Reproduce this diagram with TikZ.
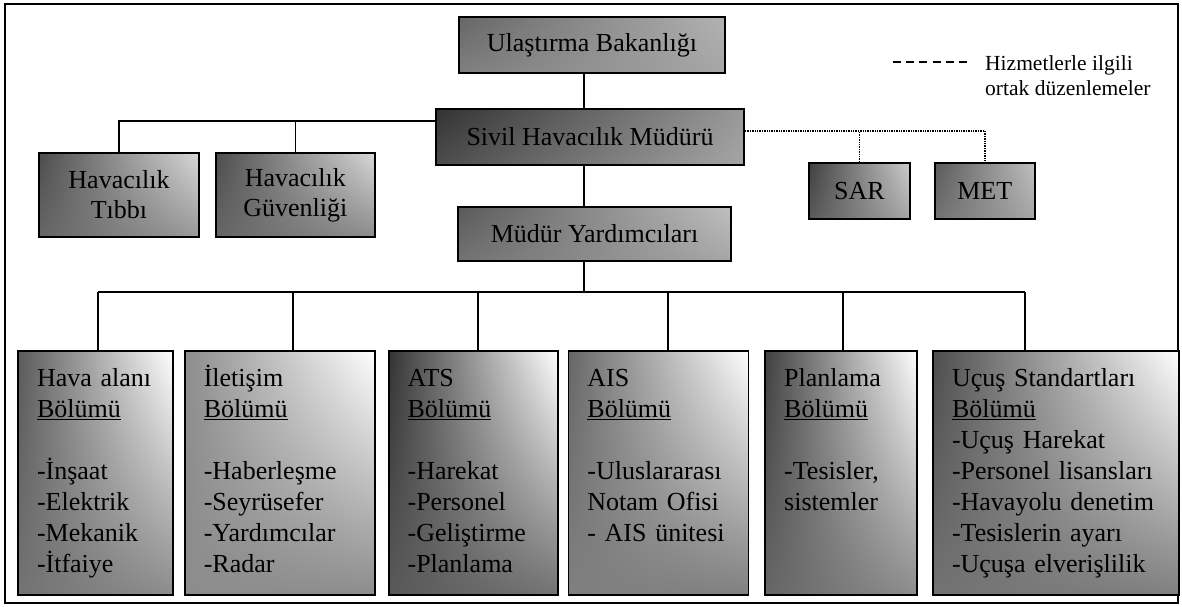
\documentclass[tikz,border=0pt]{standalone}
\usepackage{fontspec}
\setmainfont{Liberation Serif}
\usetikzlibrary{shadings,positioning}
\newcommand{\unitfont}{\fontsize{26}{31}\selectfont}
\newcommand{\notefont}{\fontsize{21.5}{25}\selectfont}

\begin{document}
\begin{tikzpicture}[x=1pt,y=-1pt,
                    unit/.style={draw,line width=1.8pt,inner sep=0pt,font=\unitfont},
                    head/.style={unit,minimum height=56pt},
                    dept/.style={unit,minimum height=244pt,inner xsep=19pt,align=left,upper right=white},
                    link/.style={line width=1.5pt},
                    service/.style={line width=1.4pt,densely dotted}]

        \useasboundingbox (0,0) rectangle (1182,607);
        \draw[line width=2.8pt] (5,4) rectangle (1178,603);

        % Define vertices
        \node[head,minimum width=266pt,upper left=black!60,upper right=black!30,lower left=black!50,lower right=black!35] (bak) at (592,45) {Ulaştırma Bakanlığı};
        \node[head,minimum width=308pt,upper left=black!80,upper right=black!40,lower left=black!70,lower right=black!35] (shm) at (590,137) {Sivil Havacılık Müdürü};
        \node[head,minimum width=273pt,minimum height=54pt,upper left=black!65,upper right=black!25,lower left=black!55,lower right=black!35] (myr) at (594.5,234) {Müdür Yardımcıları};

        \node[unit,minimum width=160pt,minimum height=84pt,align=center,font=\fontsize{26}{30}\selectfont,
              upper left=black!70,upper right=black!15,lower left=black!60,lower right=black!40] (tip) at (119,195) {Havacılık\\Tıbbı};
        \node[unit,minimum width=159pt,minimum height=84pt,align=center,font=\fontsize{26}{30}\selectfont,
              upper left=black!70,upper right=black!15,lower left=black!60,lower right=black!45,right=15pt of tip] (guv) {Havacılık\\Güvenliği};

        \node[head,minimum width=101pt,upper left=black!75,upper right=black!20,lower left=black!65,lower right=black!35] (sar) at (859.5,191) {SAR};
        \node[head,minimum width=100pt,upper left=black!65,upper right=black!25,lower left=black!55,lower right=black!35,right=23pt of sar] (met) {MET};

        \node[dept,text width=117pt,upper left=black!65,lower left=black!55,lower right=black!45] (ha) at (95.5,473)
            {\strut Hava~alanı\\ \underline{Bölümü}\\ ~\\ -İnşaat\\ -Elektrik\\ -Mekanik\\ -İtfaiye\strut};
        \node[dept,text width=152pt,upper left=black!45,lower left=black!45,lower right=black!45,right=10pt of ha] (il)
            {\strut İletişim\\ \underline{Bölümü}\\ ~\\ -Haberleşme\\ -Seyrüsefer\\ -Yardımcılar\\ -Radar\strut};
        \node[dept,text width=131pt,upper left=black!80,lower left=black!65,lower right=black!55,right=12pt of il] (ats)
            {\strut ATS\\ \underline{Bölümü}\\ ~\\ -Harekat\\ -Personel\\ -Geliştirme\\ -Planlama\strut};
        \node[dept,text width=142pt,upper left=black!60,lower left=black!50,lower right=black!50,right=9pt of ats] (ais)
            {\strut AIS\\ \underline{Bölümü}\\ ~\\ -Uluslararası\\ Notam~Ofisi\\ -~AIS~ünitesi\\ ~\strut};
        \node[dept,text width=114pt,upper left=black!75,lower left=black!60,lower right=black!45,right=15pt of ais] (pl)
            {\strut Planlama\\ \underline{Bölümü}\\ ~\\ -Tesisler,\\ sistemler\\ ~\\ ~\strut};
        \node[dept,text width=208pt,upper left=black!70,lower left=black!55,lower right=black!50,right=14pt of pl] (us)
            {\strut Uçuş~Standartları\\ \underline{Bölümü}\\ -Uçuş~Harekat\\ -Personel~lisansları\\ -Havayolu~denetim\\ -Tesislerin~ayarı\\ -Uçuşa~elverişlilik\strut};

        % Legend
        \node[anchor=north west,inner sep=0pt,align=left,font=\notefont] (note) at (985,52.5)
            {\strut Hizmetlerle ilgili\\ ortak düzenlemeler};
        \coordinate (dash) at (893,62);
        \draw[line width=1.8pt,dash pattern=on 8pt off 5.2pt] (dash) -- ([xshift=-18pt]dash -| note.west);

        % Draw edges
        \coordinate (spine) at (584,0);
        \coordinate (upper bar) at (0,121);
        \coordinate (service bar) at (0,131);
        \coordinate (lower bar) at (0,292);

        \path[link]
            (bak.south -| spine) edge (shm.north -| spine)
            (shm.south -| spine) edge (myr.north -| spine)
            (myr.south -| spine) edge (spine |- lower bar)
            (guv.north) edge (guv.north |- upper bar)
            (98,0 |- lower bar) edge (1025,0 |- lower bar)
            (98,0 |- lower bar) edge (98,0 |- ha.north)
            (293,0 |- lower bar) edge (293,0 |- il.north)
            (478,0 |- lower bar) edge (478,0 |- ats.north)
            (668,0 |- lower bar) edge (668,0 |- ais.north)
            (843,0 |- lower bar) edge (843,0 |- pl.north)
            (1025,0 |- lower bar) edge (1025,0 |- us.north);
        \draw[link] (shm.west |- upper bar) -| (tip.north);

        \draw[service] (shm.east |- service bar) -| (met.north);
        \draw[service] (sar.north) -- (sar.north |- service bar);
        \end{tikzpicture}
\end{document}
